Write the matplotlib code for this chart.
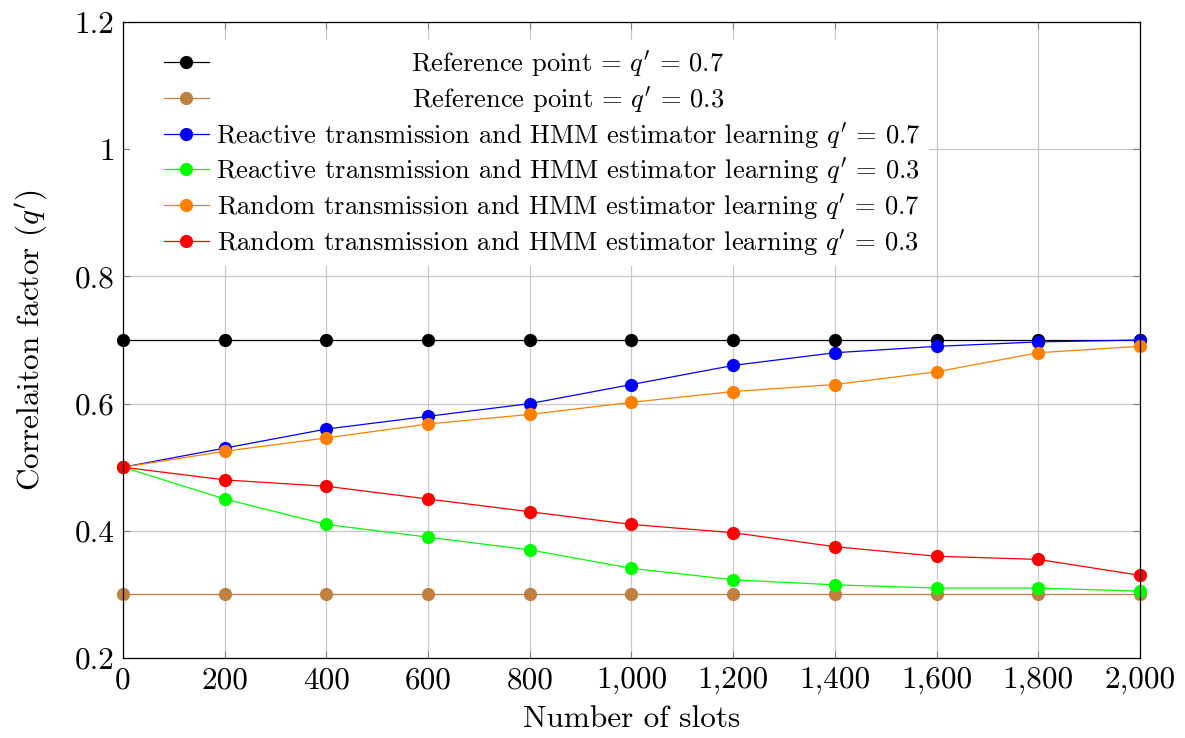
import numpy as np
import matplotlib
matplotlib.use("Agg")
import matplotlib.pyplot as plt
from matplotlib.ticker import FuncFormatter
from matplotlib.offsetbox import HPacker, DrawingArea

plt.rcParams['font.family'] = 'serif'
plt.rcParams['font.serif'] = ['cmr10']
plt.rcParams['mathtext.fontset'] = 'cm'
plt.rcParams['axes.formatter.use_mathtext'] = True

slots = [0, 200, 400, 600, 800, 1000, 1200, 1400, 1600, 1800, 2000]
ref_07 = [0.7] * 11
ref_03 = [0.3] * 11
reactive_07 = [0.5, 0.53, 0.56, 0.58, 0.6, 0.63, 0.66, 0.68, 0.69, 0.697, 0.7]
reactive_03 = [0.5, 0.45, 0.41, 0.39, 0.37, 0.341, 0.323, 0.315, 0.31, 0.31, 0.305]
random_07 = [0.5, 0.525, 0.546, 0.568, 0.583, 0.602, 0.619, 0.63, 0.65, 0.68, 0.69]
random_03 = [0.5, 0.48, 0.47, 0.45, 0.43, 0.41, 0.397, 0.375, 0.36, 0.355, 0.33]

series = [
    (ref_07, 'black', "Reference point = $q'$ = 0.7"),
    (ref_03, '#bf8040', "Reference point = $q'$ = 0.3"),
    (reactive_07, 'blue', "Reactive transmission and HMM estimator learning $q'$ = 0.7"),
    (reactive_03, '#00ff00', "Reactive transmission and HMM estimator learning $q'$ = 0.3"),
    (random_07, '#ff8000', "Random transmission and HMM estimator learning $q'$ = 0.7"),
    (random_03, 'red', "Random transmission and HMM estimator learning $q'$ = 0.3"),
]

fig = plt.figure(figsize=(11.85, 7.38), dpi=100)
ax = fig.add_axes([0.1038, 0.1084, 0.8582, 0.8618])

for values, color, label in series:
    ax.plot(slots, values, color=color, marker='o', markersize=8.5,
            linewidth=0.9, label=label, clip_on=False)

ax.set_xlim(0, 2000)
ax.set_ylim(0.2, 1.2)
ax.set_xticks(np.arange(0, 2001, 200))
ax.set_yticks([0.2, 0.4, 0.6, 0.8, 1.0, 1.2])
ax.xaxis.set_major_formatter(FuncFormatter(lambda v, p: f"{int(v):,}"))
ax.yaxis.set_major_formatter(FuncFormatter(lambda v, p: f"{v:g}"))
ax.tick_params(direction='in', top=True, right=True, length=5, width=0.8,
               color='#808080', labelsize=22.5, pad=6)
ax.grid(True, color='#c8c8c8', linewidth=0.9)
ax.set_axisbelow(True)
for s in ax.spines.values():
    s.set_linewidth(0.9)

ax.set_xlabel("Number of slots", fontsize=22.5, labelpad=8)
ax.set_ylabel("Correlaiton factor ($q'$)", fontsize=22.5, labelpad=18)

leg = ax.legend(loc='upper left', bbox_to_anchor=(0.0069, 0.9717),
                fontsize=19.1, frameon=True, fancybox=False,
                edgecolor='none', facecolor='white', framealpha=1,
                handlelength=1.7, handletextpad=0.26, labelspacing=0.19,
                borderpad=0.32, borderaxespad=0)

# centre the legend texts like pgfplots does, and add room left of the handles
fig.canvas.draw()
renderer = fig.canvas.get_renderer()
texts = leg.get_texts()
widths = [t.get_window_extent(renderer).width for t in texts]
wmax = max(widths)
column = leg._legend_handle_box.get_children()[0]
for row, w in zip(column.get_children(), widths):
    kids = row.get_children()
    hbox = HPacker(children=[DrawingArea(18.0, 1), kids[0]], pad=0, sep=0,
                   align='baseline')
    hbox.set_figure(fig)
    kids[0] = hbox
    pad = (wmax - w) / 2 * 72 / fig.dpi
    if pad > 0.5:
        box = HPacker(children=[DrawingArea(pad, 1), kids[1]], pad=0, sep=0,
                      align='baseline')
        box.set_figure(fig)
        kids[1] = box

plt.savefig('out.png', dpi=100)
plt.close()
